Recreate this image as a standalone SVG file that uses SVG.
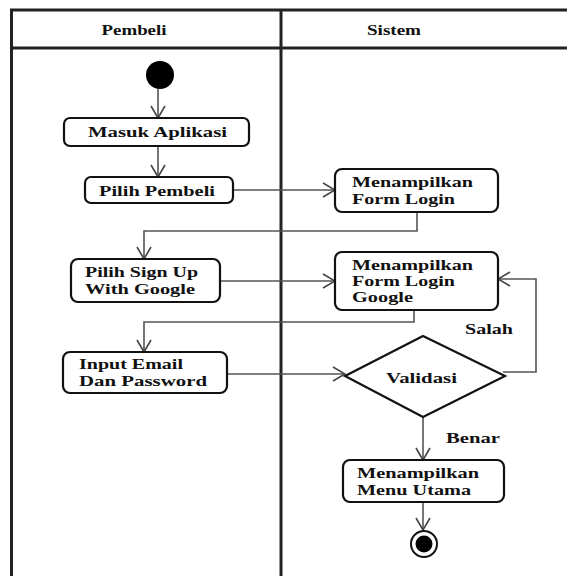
<svg xmlns="http://www.w3.org/2000/svg" width="567" height="576" viewBox="0 0 567 576">
  <style>
    .lane { stroke: #222; stroke-width: 3; fill: none; }
    .box { fill: #fff; stroke: #111; stroke-width: 2.2; }
    .flow { stroke: #555; stroke-width: 1.6; fill: none; }
    .t { font-family: "Liberation Serif", "Times New Roman", serif; font-weight: bold; font-size: 15px; fill: #111; }
    .hd { font-family: "Liberation Serif", "Times New Roman", serif; font-weight: bold; font-size: 14px; fill: #111; }
  </style>
  <defs>
    <marker id="open" viewBox="0 0 14 16" refX="13" refY="8" markerWidth="14" markerHeight="16" markerUnits="userSpaceOnUse" orient="auto">
      <path d="M1 1 L13 8 L1 15" fill="none" stroke="#444" stroke-width="1.6"/>
    </marker>
  </defs>
  <rect width="567" height="576" fill="#fff"/>

  <!-- swimlanes -->
  <g id="lanes">
    <path class="lane" d="M11.5 576 V10 H567 M11.5 48 H567 M281 10 V576"/>
    <text class="hd" x="134" y="35" text-anchor="middle" textLength="65" lengthAdjust="spacingAndGlyphs">Pembeli</text>
    <text class="hd" x="394" y="35" text-anchor="middle" textLength="54" lengthAdjust="spacingAndGlyphs">Sistem</text>
  </g>

  <!-- connectors -->
  <g id="connectors">
    <path class="flow" d="M158 89 V118" marker-end="url(#open)"/>
    <path class="flow" d="M158 146 V177" marker-end="url(#open)"/>
    <path class="flow" d="M233 190 H335" marker-end="url(#open)"/>
    <path class="flow" d="M417 212 V231 H144 V259" marker-end="url(#open)"/>
    <path class="flow" d="M220 281 H335" marker-end="url(#open)"/>
    <path class="flow" d="M414 310 V322 H144 V352" marker-end="url(#open)"/>
    <path class="flow" d="M227 374 H345" marker-end="url(#open)"/>
    <path class="flow" d="M503 372 H536 V279 H498" marker-end="url(#open)"/>
    <path class="flow" d="M423 417 V460" marker-end="url(#open)"/>
    <path class="flow" d="M423 502 V530" marker-end="url(#open)"/>
    <text class="t" x="465" y="334" textLength="48" lengthAdjust="spacingAndGlyphs">Salah</text>
    <text class="t" x="446" y="443" textLength="54" lengthAdjust="spacingAndGlyphs">Benar</text>
  </g>

  <g id="start">
    <circle cx="160" cy="75" r="14" fill="#000"/>
  </g>

  <g id="masuk-aplikasi">
    <rect class="box" x="64" y="118" width="185" height="28" rx="6"/>
    <text class="t" x="88" y="137" textLength="139" lengthAdjust="spacingAndGlyphs">Masuk Aplikasi</text>
  </g>

  <g id="pilih-pembeli">
    <rect class="box" x="85" y="177" width="148" height="26" rx="6"/>
    <text class="t" x="99" y="196" textLength="116" lengthAdjust="spacingAndGlyphs">Pilih Pembeli</text>
  </g>

  <g id="form-login">
    <rect class="box" x="335" y="169" width="163" height="43" rx="7"/>
    <text class="t" x="352" y="187" textLength="121" lengthAdjust="spacingAndGlyphs">Menampilkan</text>
    <text class="t" x="352" y="204" textLength="103" lengthAdjust="spacingAndGlyphs">Form Login</text>
  </g>

  <g id="sign-up-google">
    <rect class="box" x="71" y="259" width="149" height="43" rx="7"/>
    <text class="t" x="85" y="277" textLength="113" lengthAdjust="spacingAndGlyphs">Pilih Sign Up</text>
    <text class="t" x="85" y="294" textLength="110" lengthAdjust="spacingAndGlyphs">With Google</text>
  </g>

  <g id="form-login-google">
    <rect class="box" x="335" y="252" width="163" height="58" rx="7"/>
    <text class="t" x="352" y="270" textLength="121" lengthAdjust="spacingAndGlyphs">Menampilkan</text>
    <text class="t" x="352" y="286" textLength="103" lengthAdjust="spacingAndGlyphs">Form Login</text>
    <text class="t" x="352" y="302" textLength="61" lengthAdjust="spacingAndGlyphs">Google</text>
  </g>

  <g id="input-email">
    <rect class="box" x="63" y="352" width="164" height="41" rx="7"/>
    <text class="t" x="79" y="369" textLength="104" lengthAdjust="spacingAndGlyphs">Input Email</text>
    <text class="t" x="79" y="386" textLength="128" lengthAdjust="spacingAndGlyphs">Dan Password</text>
  </g>

  <g id="validasi">
    <polygon class="box" points="345,376 423,336 505,376 423,417"/>
    <text class="t" x="386" y="383" textLength="71" lengthAdjust="spacingAndGlyphs">Validasi</text>
  </g>

  <g id="menu-utama">
    <rect class="box" x="343" y="460" width="161" height="42" rx="7"/>
    <text class="t" x="357" y="478" textLength="122" lengthAdjust="spacingAndGlyphs">Menampilkan</text>
    <text class="t" x="357" y="495" textLength="114" lengthAdjust="spacingAndGlyphs">Menu Utama</text>
  </g>

  <g id="end">
    <circle cx="424" cy="544" r="13" fill="#fff" stroke="#111" stroke-width="2"/>
    <circle cx="424" cy="544" r="8.5" fill="#000"/>
  </g>
</svg>
